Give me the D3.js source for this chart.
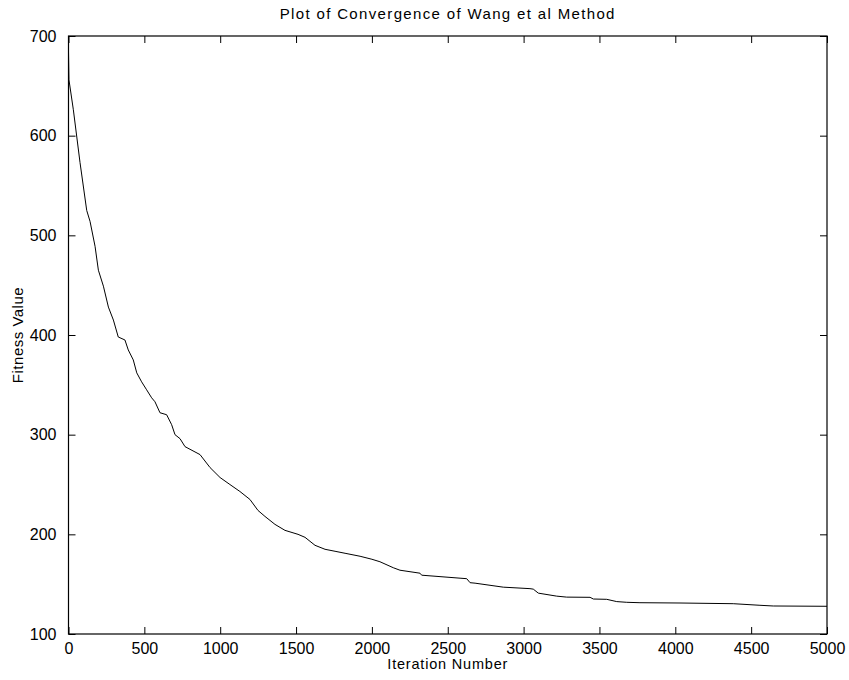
<!DOCTYPE html>
<html>
<head>
<meta charset="utf-8">
<script src="https://cdn.jsdelivr.net/npm/d3@7/dist/d3.min.js"></script>
<style>
  html, body { margin: 0; padding: 0; background: #fff; }
  svg { display: block; }
  text { font-family: "Liberation Sans", Arial, Helvetica, sans-serif; fill: #000; }
</style>
</head>
<body>
<svg id="chart" width="849" height="680"></svg>
<script>
// Best fitness per iteration of the Wang et al method
const iterations = [0, 3, 32, 76, 120, 142, 175, 197, 230, 263, 296, 328, 372, 394, 427, 450, 482, 515, 548,
  570, 603, 647, 680, 702, 735, 768, 867, 933, 999, 1064, 1130, 1196, 1249, 1295, 1361, 1427, 1513, 1559,
  1625, 1691, 1757, 1823, 1922, 2000, 2053, 2141, 2185, 2317, 2328, 2581, 2625, 2647, 2680, 2866, 3042,
  3064, 3097, 3218, 3284, 3438, 3460, 3548, 3614, 3680, 3767, 4031, 4382, 4558, 4646, 5000];
const fitness = [684, 656, 626, 573, 525, 514, 489, 465, 449, 428, 415, 398, 395, 385, 375, 362, 353, 345, 337,
  333, 322, 320, 310, 300, 296, 288, 280, 267, 257, 250, 243, 235, 224, 218, 210, 204, 200, 197,
  189, 185, 183, 181, 178, 175, 172.5, 166.5, 164, 161, 159, 156, 155.5, 151.5, 151, 147, 145.5,
  145, 141, 138, 137, 136.8, 135.1, 134.8, 132.5, 131.8, 131.4, 131.1, 130.4, 128.8, 128.1, 127.8];

const xTicks = [0, 500, 1000, 1500, 2000, 2500, 3000, 3500, 4000, 4500, 5000];
const yTicks = [100, 200, 300, 400, 500, 600, 700];

const chartTitle = "Plot of Convergence of Wang et al Method";
const xLabel = "Iteration Number";
const yLabel = "Fitness Value";

const svg = d3.select("#chart");
const margin = { left: 68.5, top: 36, right: 849 - 827, bottom: 680 - 634 };
const W = 849 - margin.left - margin.right;
const H = 680 - margin.top - margin.bottom;

const x = d3.scaleLinear().domain([0, 5000]).range([0, W]);
const y = d3.scaleLinear().domain([100, 700]).range([H, 0]);

const g = svg.append("g").attr("transform", `translate(${margin.left},${margin.top})`);

const tickLen = 7;
const fontSize = 16;

// inward ticks on all four sides of the box
function styleAxis(sel) {
  sel.select(".domain").remove();
  sel.selectAll(".tick line").attr("stroke", "#000").attr("stroke-width", 1);
  sel.selectAll(".tick text").attr("font-size", fontSize)
    .attr("font-family", '"Liberation Sans", Arial, sans-serif');
}

const xBottom = g.append("g").attr("transform", `translate(0,${H})`)
  .call(d3.axisBottom(x).tickValues(xTicks).tickFormat(d3.format("d"))
    .tickSizeInner(-tickLen).tickSizeOuter(0).tickPadding(10));
styleAxis(xBottom);
xBottom.selectAll(".tick text").attr("dy", "0.6em");

const xTop = g.append("g")
  .call(d3.axisTop(x).tickValues(xTicks).tickFormat("").tickSizeInner(-tickLen).tickSizeOuter(0));
styleAxis(xTop);

const yLeft = g.append("g")
  .call(d3.axisLeft(y).tickValues(yTicks).tickFormat(d3.format("d"))
    .tickSizeInner(-tickLen).tickSizeOuter(0).tickPadding(12));
styleAxis(yLeft);

const yRight = g.append("g").attr("transform", `translate(${W},0)`)
  .call(d3.axisRight(y).tickValues(yTicks).tickFormat("").tickSizeInner(-tickLen).tickSizeOuter(0));
styleAxis(yRight);

// plot box
g.append("rect").attr("x", 0).attr("y", 0).attr("width", W).attr("height", H)
  .attr("fill", "none").attr("stroke", "#000").attr("stroke-width", 1.2);

// convergence curve
const pts = iterations.map((it, i) => [it, fitness[i]]);
g.append("path").datum(pts)
  .attr("fill", "none").attr("stroke", "#000").attr("stroke-width", 1)
  .attr("d", d3.line().x(d => x(d[0])).y(d => y(d[1])));

// title and axis labels
svg.append("text").attr("x", margin.left + W / 2).attr("y", 19)
  .attr("text-anchor", "middle").attr("font-size", 15).attr("letter-spacing", "1.35px")
  .text(chartTitle);
svg.append("text").attr("x", margin.left + W / 2).attr("y", 669)
  .attr("text-anchor", "middle").attr("font-size", 14.5).attr("letter-spacing", "0.8px")
  .text(xLabel);
svg.append("text").attr("transform", `translate(23,${margin.top + H / 2}) rotate(-90)`)
  .attr("text-anchor", "middle").attr("font-size", 15).attr("letter-spacing", "0.5px")
  .text(yLabel);
</script>
</body>
</html>
